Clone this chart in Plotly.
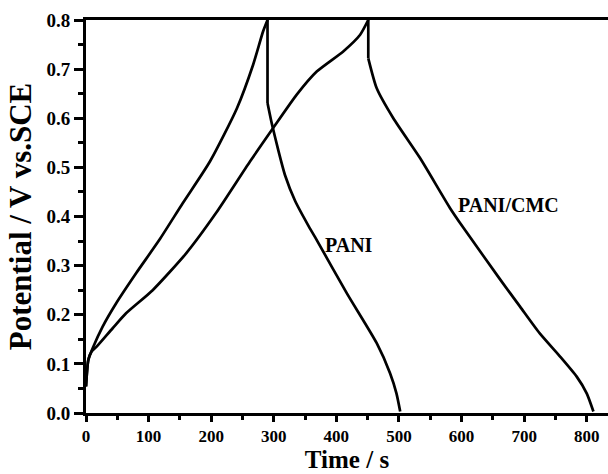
import plotly.graph_objects as go

# PANI charge / discharge (discharge starts with the IR drop at the top)
pani_charge_t = [0, 3.7, 11.7, 26.6, 48, 80, 117, 154.5, 198, 241, 267, 283, 290]
pani_charge_v = [0.054, 0.108, 0.135, 0.176, 0.223, 0.2845, 0.352, 0.427, 0.512, 0.62, 0.709, 0.777, 0.8]
pani_dis_t = [290, 290, 296.7, 307, 318, 334, 355, 366, 416.6, 464.5, 485.8, 496, 502]
pani_dis_v = [0.8, 0.631, 0.59, 0.536, 0.484, 0.432, 0.382, 0.358, 0.244, 0.142, 0.081, 0.04, 0.003]

# PANI/CMC charge / discharge
cmc_charge_t = [0, 3.7, 9, 17, 42.6, 64, 106.5, 160, 207.7, 262, 299, 336.7, 368.6, 411, 438, 451]
cmc_charge_v = [0.054, 0.108, 0.125, 0.135, 0.1725, 0.203, 0.25, 0.325, 0.407, 0.512, 0.58, 0.648, 0.695, 0.736, 0.77, 0.8]
cmc_dis_t = [451, 451, 464.5, 491, 533.7, 581.7, 603, 661.6, 693.5, 725, 757.4, 784, 800, 810.7]
cmc_dis_v = [0.8, 0.722, 0.661, 0.60, 0.519, 0.417, 0.377, 0.272, 0.2165, 0.162, 0.115, 0.074, 0.04, 0.003]

labels = ["PANI", "PANI/CMC"]
label_t = [420, 675]
label_v = [0.341, 0.423]

x_ticks = [0, 100, 200, 300, 400, 500, 600, 700, 800]
y_ticks = [0.0, 0.1, 0.2, 0.3, 0.4, 0.5, 0.6, 0.7, 0.8]

font_fam = "Liberation Serif, Times New Roman, serif"
line = dict(color="black", width=2.7)

fig = go.Figure()
for tt, vv in [(pani_charge_t, pani_charge_v), (cmc_charge_t, cmc_charge_v)]:
    fig.add_trace(go.Scatter(x=tt, y=vv, mode="lines", cliponaxis=False,
                             line=dict(line, shape="spline", smoothing=0.6)))
for tt, vv in [(pani_dis_t, pani_dis_v), (cmc_dis_t, cmc_dis_v)]:
    # vertical IR drop
    fig.add_trace(go.Scatter(x=tt[:2], y=vv[:2], mode="lines", cliponaxis=False, line=line))
    # discharge curve
    fig.add_trace(go.Scatter(x=tt[1:], y=vv[1:], mode="lines", cliponaxis=False,
                             line=dict(line, shape="spline", smoothing=0.6)))

for lab, t, v in zip(labels, label_t, label_v):
    fig.add_annotation(x=t, y=v, text="<b>%s</b>" % lab, showarrow=False,
                       font=dict(family=font_fam, size=20, color="black"))

fig.update_layout(
    width=608, height=474,
    margin=dict(l=86, r=0, t=20, b=61),
    plot_bgcolor="white", paper_bgcolor="white",
    showlegend=False,
    font=dict(family=font_fam, color="black"),
    xaxis=dict(range=[0, 834], tickvals=x_ticks, ticktext=["<b>%d</b>" % v for v in x_ticks],
               showgrid=False, zeroline=False, showline=True, linecolor="black", linewidth=2.7,
               mirror=True, ticks="outside", ticklen=6, tickwidth=2.5, tickcolor="black",
               minor=dict(dtick=50, ticks="outside", ticklen=4, tickwidth=2.5, tickcolor="black"),
               tickfont=dict(family=font_fam, size=17, color="black"), automargin=False,
               title=dict(text="<b>Time / s</b>", font=dict(family=font_fam, size=25, color="black"),
                          standoff=3)),
    yaxis=dict(range=[0, 0.8], tickvals=y_ticks, ticktext=["<b>%.1f</b>" % v for v in y_ticks],
               showgrid=False, zeroline=False, showline=True, linecolor="black", linewidth=2.7,
               ticks="outside", ticklen=9, tickwidth=2.5, tickcolor="black",
               minor=dict(dtick=0.05, ticks="outside", ticklen=5, tickwidth=2.5, tickcolor="black"),
               tickfont=dict(family=font_fam, size=19, color="black"), automargin=False,
               title=dict(text="<b>Potential / V vs.SCE</b>", font=dict(family=font_fam, size=31, color="black"),
                          standoff=6)),
)

fig.write_html("out.html")
